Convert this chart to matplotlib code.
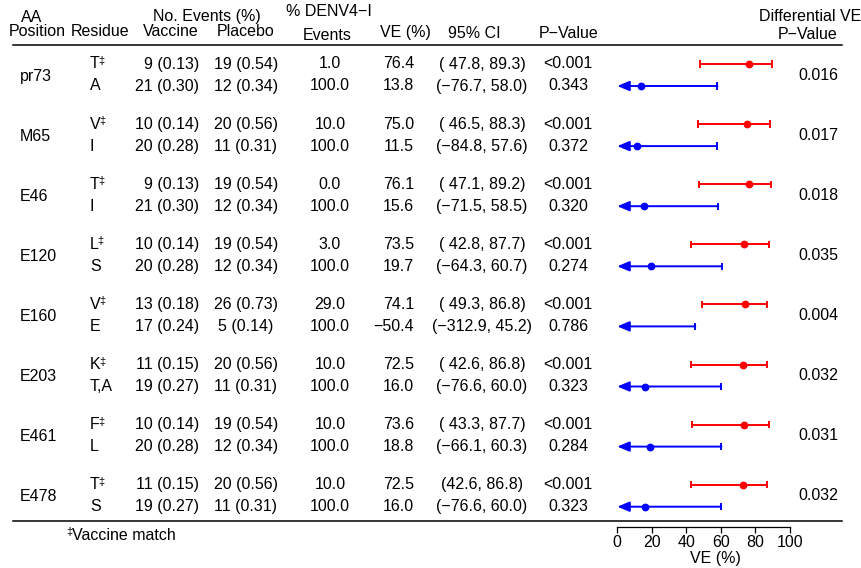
import numpy as np
import matplotlib
matplotlib.use("Agg")
import matplotlib.pyplot as plt

plt.rcParams['font.family'] = ['Liberation Sans', 'DejaVu Sans']

# ---------------- data ----------------
positions = ["pr73", "M65", "E46", "E120", "E160", "E203", "E461", "E478"]
match_res = ["T", "V", "T", "L", "V", "K", "F", "T"]
mismatch_res = ["A", "I", "I", "S", "E", "T,A", "L", "S"]

vacc_match = ["9 (0.13)", "10 (0.14)", "9 (0.13)", "10 (0.14)", "13 (0.18)", "11 (0.15)", "10 (0.14)", "11 (0.15)"]
plac_match = ["19 (0.54)", "20 (0.56)", "19 (0.54)", "19 (0.54)", "26 (0.73)", "20 (0.56)", "19 (0.54)", "20 (0.56)"]
vacc_mis = ["21 (0.30)", "20 (0.28)", "21 (0.30)", "20 (0.28)", "17 (0.24)", "19 (0.27)", "20 (0.28)", "19 (0.27)"]
plac_mis = ["12 (0.34)", "11 (0.31)", "12 (0.34)", "12 (0.34)", "5 (0.14)", "11 (0.31)", "12 (0.34)", "11 (0.31)"]

denv_match = [1.0, 10.0, 0.0, 3.0, 29.0, 10.0, 10.0, 10.0]
denv_mis = [100.0] * 8

ve_match = [76.4, 75.0, 76.1, 73.5, 74.1, 72.5, 73.6, 72.5]
lo_match = [47.8, 46.5, 47.1, 42.8, 49.3, 42.6, 43.3, 42.6]
hi_match = [89.3, 88.3, 89.2, 87.7, 86.8, 86.8, 87.7, 86.8]

ve_mis = [13.8, 11.5, 15.6, 19.7, -50.4, 16.0, 18.8, 16.0]
lo_mis = [-76.7, -84.8, -71.5, -64.3, -312.9, -76.6, -66.1, -76.6]
hi_mis = [58.0, 57.6, 58.5, 60.7, 45.2, 60.0, 60.3, 60.0]

# CI labels exactly as printed in the table
ci_match_labels = ["( 47.8, 89.3)", "( 46.5, 88.3)", "( 47.1, 89.2)", "( 42.8, 87.7)",
                   "( 49.3, 86.8)", "( 42.6, 86.8)", "( 43.3, 87.7)", "(42.6, 86.8)"]
ci_mis_labels = ["(\u221276.7, 58.0)", "(\u221284.8, 57.6)", "(\u221271.5, 58.5)", "(\u221264.3, 60.7)",
                 "(\u2212312.9, 45.2)", "(\u221276.6, 60.0)", "(\u221266.1, 60.3)", "(\u221276.6, 60.0)"]

p_match = ["<0.001"] * 8
p_mis = ["0.343", "0.372", "0.320", "0.274", "0.786", "0.323", "0.284", "0.323"]
p_diff = ["0.016", "0.017", "0.018", "0.035", "0.004", "0.032", "0.031", "0.032"]

ve_ticks = [0, 20, 40, 60, 80, 100]

# ---------------- layout ----------------
W, H = 862, 568
FS = 11.5
fig = plt.figure(figsize=(W / 100, H / 100), dpi=100)

# text / lines layer in pixel coordinates
tax = fig.add_axes([0, 0, 1, 1])
tax.set_xlim(0, W)
tax.set_ylim(H, 0)
tax.axis('off')

def t(x, y, s, ha='center', va='center', **kw):
    return tax.text(x, y, s, ha=ha, va=va, fontsize=kw.pop('fontsize', FS), **kw)

# headers
t(32, 17, "AA")
t(37, 32, "Position")
t(100, 32, "Residue")
t(207, 17, "No. Events (%)")
t(171, 32, "Vaccine")
t(246, 32, "Placebo")
t(329, 12, "% DENV4\u2212I")
t(327, 36, "Events")
t(405, 33, "VE (%)")
t(474, 33, "95% CI")
t(569, 33, "P\u2212Value")
t(861, 16.5, "Differential VE", ha='right')
t(778, 34.5, "P\u2212Value", ha='left')

tax.plot([13, 842], [45, 45], color='black', lw=1.1)
tax.plot([13, 842], [521, 521], color='black', lw=1.1)

def fmt_num(v):
    return f"{v:.1f}".replace("-", "\u2212")

row1 = 64.0
gap = 60.1
dr = 22.0
ys1 = [row1 + gap * i for i in range(len(positions))]
ys2 = [y + dr for y in ys1]

for i in range(len(positions)):
    y1, y2 = ys1[i], ys2[i]
    ym = (y1 + y2) / 2
    t(20, ym + 1, positions[i], ha='left')
    rt = t(90, y1, match_res[i], ha='left')
    tax.annotate("\u2021", xy=(1, 1), xycoords=rt, xytext=(-1.2, 0.3),
                 textcoords='offset points', ha='left', va='top', fontsize=8)
    t(90, y2, mismatch_res[i], ha='left')
    t(199, y1, vacc_match[i], ha='right')
    t(199, y2, vacc_mis[i], ha='right')
    t(246, y1, plac_match[i])
    t(246, y2, plac_mis[i])
    t(330, y1, fmt_num(denv_match[i]))
    t(330, y2, fmt_num(denv_mis[i]))
    t(414, y1, fmt_num(ve_match[i]), ha='right')
    t(414, y2, fmt_num(ve_mis[i]), ha='right')
    t(482, y1, ci_match_labels[i])
    t(482, y2, ci_mis_labels[i])
    t(568, y1, p_match[i])
    t(568, y2, p_mis[i])
    t(818, ym, p_diff[i])

# footnote
ft = t(72.5, 535, "Vaccine match", ha='left')
tax.annotate("\u2021", xy=(0, 1), xycoords=ft, xytext=(-0.3, 0.3),
             textcoords='offset points', ha='right', va='top', fontsize=8)

# ---------------- forest plot ----------------
x0, x1 = 617.3, 790.0
ytop, ybot = 45, 521
fax = fig.add_axes([x0 / W, 1 - ybot / H, (x1 - x0) / W, (ybot - ytop) / H])
fax.set_xlim(0, 100)
fax.set_ylim(ybot, ytop)
fax.patch.set_alpha(0)
for s in ['top', 'right', 'left']:
    fax.spines[s].set_visible(False)
fax.spines['bottom'].set_position(('outward', 4.3))
fax.spines['bottom'].set_bounds(0, 100)
fax.spines['bottom'].set_linewidth(0.9)
fax.set_yticks([])
fax.set_xticks(ve_ticks)
fax.tick_params(axis='x', direction='out', length=4.5, width=0.9, pad=1.5, labelsize=FS)
t(715, 558, "VE (%)")

def draw_ci(y, ve, lo, hi, color):
    lw = 1.4
    cap = 2.7
    left = max(lo, 0)
    if lo < 0:
        fax.annotate("", xy=(0, y), xytext=(hi, y),
                     arrowprops=dict(arrowstyle="-|>,head_length=0.72,head_width=0.3",
                                     color=color, lw=lw, shrinkA=0, shrinkB=0,
                                     mutation_scale=10),
                     annotation_clip=False)
    else:
        fax.plot([left, hi], [y, y], color=color, lw=lw, clip_on=False)
        fax.plot([lo, lo], [y - cap, y + cap], color=color, lw=lw, clip_on=False)
    fax.plot([hi, hi], [y - cap, y + cap], color=color, lw=lw, clip_on=False)
    if ve >= 0:
        fax.plot([ve], [y], 'o', color=color, ms=4.6, clip_on=False)

for i in range(len(positions)):
    draw_ci(ys1[i], ve_match[i], lo_match[i], hi_match[i], 'red')
    draw_ci(ys2[i], ve_mis[i], lo_mis[i], hi_mis[i], 'blue')

fig.savefig("out.png", dpi=100)
